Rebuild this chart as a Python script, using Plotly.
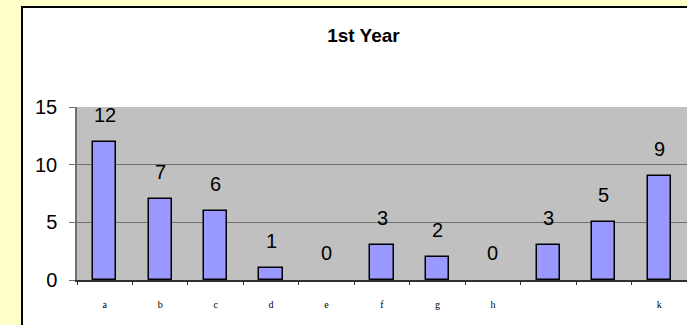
import plotly.graph_objects as go

categories = ["a", "b", "c", "d", "e", "f", "g", "h", "i", "j", "k"]
tick_labels = ["a", "b", "c", "d", "e", "f", "g", "h", "", "", "k"]
values = [12, 7, 6, 1, 0, 3, 2, 0, 3, 5, 9]
y_ticks = [0, 5, 10, 15]

xs = list(range(len(categories)))
bounds = [i - 0.5 for i in range(len(categories) + 1)]

fig = go.Figure()
fig.add_trace(go.Bar(
    x=xs, y=values, width=0.42,
    marker=dict(color="#9999FF",
                line=dict(color="#000000", width=[1.5 if v > 0 else 0 for v in values])),
    hoverinfo="skip", showlegend=False,
))
# invisible helper trace so the boundary-tick axis is drawn
fig.add_trace(go.Scatter(x=bounds, y=[0] * len(bounds), xaxis="x2", yaxis="y",
                         mode="markers", marker=dict(opacity=0), hoverinfo="skip",
                         showlegend=False))

for x, v in zip(xs, values):
    fig.add_annotation(x=x, y=v, xref="x", yref="y", text=str(v), showarrow=False,
                       yanchor="middle", yshift=27,
                       font=dict(family="Arial, Liberation Sans", size=20, color="#000000"))

W, H = 687, 325
L, T, B = 77, 107, 45
pw = W - L
ph = H - T - B

# white chart area with black frame
fig.add_shape(type="rect", xref="paper", yref="paper",
              x0=(22 - L) / pw, x1=1.3, y0=-1.0, y1=(H - B - 7) / ph,
              fillcolor="#FFFFFF", line=dict(color="#000000", width=2), layer="below")
# gray plot area
fig.add_shape(type="rect", xref="paper", yref="paper",
              x0=0, x1=1, y0=0, y1=1,
              fillcolor="#C0C0C0", line=dict(width=0), layer="below")

fig.update_layout(
    width=W, height=H,
    margin=dict(l=L, r=0, t=T, b=B, pad=0),
    paper_bgcolor="#FFFFCC",
    plot_bgcolor="rgba(0,0,0,0)",
    title=dict(text="<b>1st Year</b>", x=363.5 / W, xref="container", xanchor="center",
               y=1 - 35 / H, yref="container", yanchor="middle",
               font=dict(family="Arial, Liberation Sans", size=19, color="#000000")),
    xaxis=dict(range=[-0.5, len(categories) - 0.5], tickmode="array", tickvals=xs,
               ticktext=tick_labels, ticks="", showgrid=False, zeroline=False,
               showline=True, linecolor="#303030", linewidth=1.5,
               ticklabelstandoff=14,
               tickfont=dict(family="Times New Roman, Liberation Serif", size=10, color="#000000")),
    xaxis2=dict(range=[-0.5, len(categories) - 0.5], overlaying="x", anchor="y", side="bottom",
                tickmode="array", tickvals=bounds, ticks="outside", ticklen=4,
                tickcolor="#303030", tickwidth=1, showticklabels=False,
                showgrid=False, zeroline=False, showline=False),
    yaxis=dict(range=[0, 15], tickmode="array", tickvals=y_ticks, ticks="outside",
               ticklen=6, tickcolor="#707070", tickwidth=1,
               showgrid=True, gridcolor="#707070", gridwidth=1,
               showline=True, linecolor="#707070", linewidth=1.5, zeroline=False,
               ticklabelstandoff=8,
               tickfont=dict(family="Arial, Liberation Sans", size=20, color="#000000")),
    bargap=0,
)

fig.write_html("out.html")
